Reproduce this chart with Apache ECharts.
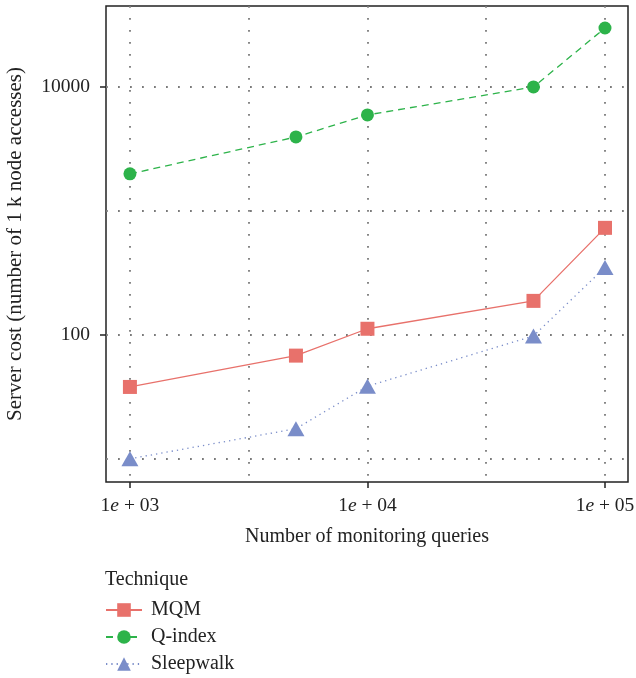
<!DOCTYPE html>
<html>
<head>
<meta charset="utf-8">
<script src="https://cdn.jsdelivr.net/npm/echarts@6/dist/echarts.min.js"></script>
<style>
    html, body { margin: 0; padding: 0; background: #fff; }
    #chart { width: 636px; height: 678px; }
</style>
</head>
<body>
<div id="chart"></div>
<script>
// number of monitoring queries
const queries = [1000, 5000, 10000, 50000, 100000];

// server cost (number of 1 k node accesses)
const mqm = [38, 68, 112, 188, 730];
const qIndex = [1990, 3950, 5950, 10000, 29900];
const sleepwalk = [10, 17.5, 38.5, 98, 350];

const xMajorTicks = [1000, 10000, 100000];
const xGridValues = [1000, 3162.2777, 10000, 31622.777, 100000];
const yMajorTicks = [100, 10000];
const yGridValues = [10, 100, 1000, 10000];

const FONT = "'Liberation Serif', 'DejaVu Serif', serif";

const pairs = values => queries.map((q, i) => [q, values[i]]);

const gridLine = {
    show: true,
    lineStyle: { color: "#7a7a7a", width: 1.8, type: [1.8, 10.2], cap: "butt" }
};

const xRange = { type: "log", min: 793, max: 125000, gridIndex: 0, position: "bottom" };
const yRange = { type: "log", min: 6.5, max: 45000, gridIndex: 0, position: "left" };

const option = {
    animation: false,
    backgroundColor: "#fff",
    textStyle: { fontFamily: FONT },
    title: {
        text: "Technique",
        left: 100,
        top: 565,
        textStyle: { fontFamily: FONT, fontSize: 20, fontWeight: "normal", color: "#222" }
    },
    legend: {
        data: ["MQM", "Q-index", "Sleepwalk"],
        orient: "vertical",
        left: 105,
        top: 600,
        height: 76,
        padding: 0,
        itemWidth: 36,
        itemHeight: 17,
        itemGap: 7,
        textStyle: { fontFamily: FONT, fontSize: 20, color: "#222", padding: [0, 0, 0, 4] }
    },
    grid: {
        left: 106,
        right: 8,
        top: 6,
        bottom: 196,
        show: true,
        borderColor: "#222",
        borderWidth: 1.5,
        containLabel: false,
        outerBoundsMode: "none"
    },
    xAxis: [
        Object.assign({}, xRange, {
            axisLine: { show: false },
            axisTick: { show: false, customValues: xGridValues },
            axisLabel: { show: false },
            splitLine: gridLine
        }),
        Object.assign({}, xRange, {
            name: "Number of monitoring queries",
            nameLocation: "middle",
            nameGap: 45,
            nameTextStyle: { fontFamily: FONT, fontSize: 20, color: "#222" },
            axisLine: { show: false },
            axisTick: { show: true, customValues: xMajorTicks, length: 6, lineStyle: { color: "#222", width: 1.5 } },
            axisLabel: {
                customValues: xMajorTicks,
                margin: 14,
                fontFamily: FONT,
                fontSize: 19.5,
                color: "#222",
                formatter: v => "1{i|e} + 0" + Math.round(Math.log10(v)),
                rich: { i: { fontFamily: FONT, fontSize: 19.5, fontStyle: "italic", color: "#222" } }
            },
            splitLine: { show: false }
        })
    ],
    yAxis: [
        Object.assign({}, yRange, {
            axisLine: { show: false },
            axisTick: { show: false, customValues: yGridValues },
            axisLabel: { show: false },
            splitLine: gridLine
        }),
        Object.assign({}, yRange, {
            name: "Server cost (number of 1 k node accesses)",
            nameLocation: "middle",
            nameGap: 80,
            nameTextStyle: { fontFamily: FONT, fontSize: 21, color: "#222" },
            axisLine: { show: false },
            axisTick: { show: true, customValues: yMajorTicks, length: 6, lineStyle: { color: "#222", width: 1.5 } },
            axisLabel: {
                customValues: yMajorTicks,
                margin: 16,
                fontFamily: FONT,
                fontSize: 19.5,
                color: "#222",
                formatter: v => String(Math.round(v))
            },
            splitLine: { show: false }
        })
    ],
    series: [
        {
            name: "MQM",
            type: "line",
            xAxisIndex: 0,
            yAxisIndex: 0,
            symbol: "rect",
            symbolSize: 14,
            color: "#E8716B",
            lineStyle: { width: 1.3, type: "solid" },
            data: pairs(mqm)
        },
        {
            name: "Q-index",
            type: "line",
            xAxisIndex: 0,
            yAxisIndex: 0,
            symbol: "circle",
            symbolSize: 13,
            color: "#2DB34A",
            lineStyle: { width: 1.3, type: [7, 5] },
            data: pairs(qIndex)
        },
        {
            name: "Sleepwalk",
            type: "line",
            xAxisIndex: 0,
            yAxisIndex: 0,
            symbol: "triangle",
            symbolSize: [17, 15],
            color: "#7A8DC9",
            lineStyle: { width: 1.3, type: [1.3, 4] },
            data: pairs(sleepwalk)
        }
    ]
};

const chart = echarts.init(document.getElementById("chart"), null, { renderer: "canvas" });
chart.setOption(option);
</script>
</body>
</html>
